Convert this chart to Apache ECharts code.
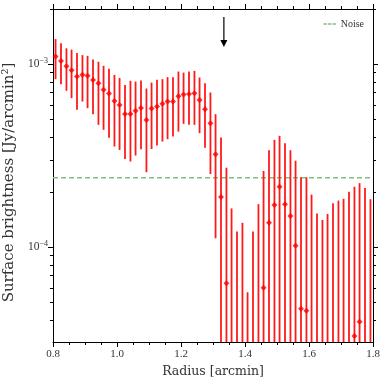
<!DOCTYPE html>
<html>
<head>
<meta charset="utf-8">
<script src="https://cdn.jsdelivr.net/npm/echarts@6/dist/echarts.min.js"></script>
<style>
  html, body { margin: 0; padding: 0; background: #fff; }
  #main { width: 383px; height: 383px; }
</style>
</head>
<body>
<div id="main"></div>
<script>
// bin centres [arcmin]
const radius = [
  0.808, 0.825, 0.842, 0.858, 0.875, 0.892, 0.908, 0.925, 0.942, 0.958,
  0.975, 0.992, 1.008, 1.025, 1.042, 1.058, 1.075, 1.092, 1.108, 1.125,
  1.142, 1.158, 1.175, 1.192, 1.208, 1.225, 1.242, 1.258, 1.275, 1.292,
  1.308, 1.325, 1.342, 1.358, 1.375, 1.392, 1.408, 1.425, 1.442, 1.458,
  1.475, 1.492, 1.508, 1.525, 1.542, 1.558, 1.575, 1.592, 1.608, 1.625,
  1.642, 1.658, 1.675, 1.692, 1.708, 1.725, 1.742, 1.758, 1.775, 1.792
];
// null = point below the plotted range
const brightness = [
  1.10e-3, 1.04e-3, 9.75e-4, 9.27e-4, 8.55e-4, 8.74e-4, 8.63e-4, 8.18e-4, 7.87e-4, 7.24e-4,
  6.91e-4, 6.30e-4, 5.99e-4, 5.35e-4, 5.35e-4, 5.56e-4, 5.77e-4, 4.96e-4, 5.72e-4, 5.87e-4,
  6.07e-4, 6.25e-4, 6.25e-4, 6.68e-4, 6.82e-4, 6.86e-4, 6.94e-4, 6.38e-4, 5.68e-4, 4.76e-4,
  3.22e-4, 1.88e-4, 6.36e-5, null, null, null, null, null, null, 6.01e-5,
  1.36e-4, 1.70e-4, 2.14e-4, 1.72e-4, 1.48e-4, 1.02e-4, 4.62e-5, 4.50e-5, null, null,
  null, null, null, null, null, null, 3.28e-5, 3.92e-5, null, null
];
const upper = [
  1.37e-3, 1.30e-3, 1.22e-3, 1.20e-3, 1.15e-3, 1.12e-3, 1.11e-3, 1.06e-3, 1.03e-3, 9.79e-4,
  9.43e-4, 8.74e-4, 8.41e-4, 7.70e-4, 8.11e-4, 8.03e-4, 8.13e-4, 7.36e-4, 7.93e-4, 8.21e-4,
  8.28e-4, 8.49e-4, 8.49e-4, 9.11e-4, 8.99e-4, 9.11e-4, 9.19e-4, 8.45e-4, 7.87e-4, 7.00e-4,
  5.33e-4, 3.97e-4, 2.72e-4, 1.63e-4, 1.22e-4, 1.36e-4, 5.68e-5, 1.22e-4, 1.72e-4, 2.61e-4,
  3.39e-4, 3.86e-4, 4.06e-4, 3.70e-4, 3.39e-4, 2.97e-4, 2.41e-4, 2.41e-4, 1.94e-4, 1.53e-4,
  1.41e-4, 1.52e-4, 1.74e-4, 1.80e-4, 1.84e-4, 2.01e-4, 2.14e-4, 2.24e-4, 2.11e-4, 1.83e-4
];
// null = lower end of the error bar is not positive (runs off the axis)
const lower = [
  8.28e-4, 7.77e-4, 7.15e-4, 6.52e-4, 5.63e-4, 6.25e-4, 5.75e-4, 5.33e-4, 4.66e-4, 4.38e-4,
  3.96e-4, 3.55e-4, 3.40e-4, 3.03e-4, 2.94e-4, 3.17e-4, 3.43e-4, 2.57e-4, 3.44e-4, 3.59e-4,
  3.78e-4, 3.89e-4, 4.02e-4, 4.28e-4, 4.72e-4, 4.66e-4, 4.66e-4, 4.20e-4, 3.50e-4, 2.51e-4,
  1.12e-4, null, null, null, null, null, null, null, null, null,
  null, null, null, null, null, null, null, null, null, null,
  null, null, null, null, null, null, null, null, null, null
];
const noiseLevel = 2.4e-4;
const arrowRadius = 1.334;
const arrowFrom = 1.81e-3;
const arrowTo = 1.24e-3;

const yMajorTicks = [1e-4, 1e-3];
const yMinorTicks = [4e-5, 5e-5, 6e-5, 7e-5, 8e-5, 9e-5,
  2e-4, 3e-4, 4e-4, 5e-4, 6e-4, 7e-4, 8e-4, 9e-4, 2e-3];

const chart = echarts.init(document.getElementById("main"));

const font = "Liberation Serif";
const titleFont = "DejaVu Serif";
const black = { color: "#000", width: 1 };
const yMin = 3.04e-5, yMax = 2e-3;

const xBase = {
  type: "value",
  min: 0.8,
  max: 1.8,
  interval: 0.2,
  axisLine: { show: true, onZero: false, lineStyle: black },
  axisTick: { show: true, length: 5, lineStyle: black },
  minorTick: { show: true, splitNumber: 4, length: 3, lineStyle: black },
  splitLine: { show: false },
  minorSplitLine: { show: false },
};

const expLabel = (v) => {
  const e = Math.round(Math.log10(v));
  return "{b|10}{s|" + String(e).replace("-", "\u2212") + "}";
};

const yBase = {
  type: "log",
  logBase: 10,
  min: yMin,
  max: yMax,
  splitLine: { show: false },
  axisLabel: { show: false },
};

const options = {
  animation: false,
  grid: { left: 53, right: 10, top: 9, bottom: 41, outerBoundsMode: "none" },
  legend: {
    data: [{ name: "Noise", icon: "path://M0,0H4.5V2H0Z M6,0H10.5V2H6Z M12,0H16.5V2H12Z" }],
    right: 19,
    top: 19,
    padding: 0,
    itemWidth: 16,
    itemHeight: 1.5,
    itemGap: 4,
    textStyle: { fontFamily: font, fontSize: 10, color: "#333", padding: [0, 0, 0, -2] },
  },
  xAxis: [
    {
      ...xBase,
      position: "bottom",
      axisLabel: {
        fontFamily: font,
        fontSize: 11,
        color: "#333",
        margin: 7,
        showMinLabel: true,
        showMaxLabel: true,
        formatter: (v) => v.toFixed(1),
      },
      name: "Radius [arcmin]",
      nameLocation: "middle",
      nameGap: 21,
      nameTextStyle: { fontFamily: titleFont, fontSize: 12.5, color: "#333" },
    },
    { ...xBase, position: "top", axisLabel: { show: false } },
  ],
  yAxis: [
    {
      ...yBase,
      position: "left",
      axisLine: { show: true, onZero: false, lineStyle: black },
      axisTick: { show: true, length: 5, lineStyle: black, customValues: yMajorTicks },
      axisLabel: {
        show: true,
        customValues: yMajorTicks,
        margin: 5,
        formatter: expLabel,
        rich: {
          b: { fontFamily: font, fontSize: 11.5, color: "#333", lineHeight: 14 },
          s: { fontFamily: font, fontSize: 8, color: "#333", padding: [0, 0, 7, 0] },
        },
      },
      name: "Surface brightness [Jy/arcmin\u00b2]",
      nameLocation: "middle",
      nameGap: 33,
      nameTextStyle: { fontFamily: titleFont, fontSize: 15, color: "#333", padding: [0, 14, 0, 0] },
    },
    {
      ...yBase,
      position: "left",
      axisLine: { show: false },
      axisTick: { show: true, length: 3, lineStyle: black, customValues: yMinorTicks },
    },
    {
      ...yBase,
      position: "right",
      axisLine: { show: true, onZero: false, lineStyle: black },
      axisTick: { show: true, length: 5, lineStyle: black, customValues: yMajorTicks },
    },
    {
      ...yBase,
      position: "right",
      axisLine: { show: false },
      axisTick: { show: true, length: 3, lineStyle: black, customValues: yMinorTicks },
    },
  ],
  series: [
    {
      name: "Noise",
      type: "line",
      xAxisIndex: 0,
      yAxisIndex: 0,
      data: [[0.8, noiseLevel], [1.8, noiseLevel]],
      symbol: "none",
      lineStyle: { color: "#80bf80", width: 1.5, type: [5, 3] },
      itemStyle: { color: "#80bf80" },
      z: 1,
    },
    {
      type: "custom",
      xAxisIndex: 0,
      yAxisIndex: 0,
      clip: true,
      data: radius.map((r, i) => [r, upper[i]]),
      renderItem: function (params, api) {
        const top = api.coord([api.value(0), api.value(1)]);
        const lo = lower[params.dataIndex];
        const cs = params.coordSys;
        const yBottom = lo == null ? cs.y + cs.height : api.coord([api.value(0), lo])[1];
        return {
          type: "line",
          shape: { x1: top[0], y1: top[1], x2: top[0], y2: yBottom },
          style: { stroke: "#ff1a1a", lineWidth: 1.8 },
        };
      },
      z: 2,
    },
    {
      type: "scatter",
      xAxisIndex: 0,
      yAxisIndex: 0,
      data: radius.map((r, i) => [r, brightness[i]]),
      symbol: "diamond",
      symbolSize: [6, 6],
      itemStyle: { color: "#ff0000" },
      z: 3,
    },
    {
      type: "custom",
      xAxisIndex: 0,
      yAxisIndex: 0,
      silent: true,
      data: [[arrowRadius, arrowFrom, arrowTo]],
      renderItem: function (params, api) {
        const a = api.coord([api.value(0), api.value(1)]);
        const b = api.coord([api.value(0), api.value(2)]);
        const h = 7, w = 3.5;
        return {
          type: "group",
          children: [
            {
              type: "line",
              shape: { x1: a[0], y1: a[1], x2: b[0], y2: b[1] - h + 1 },
              style: { stroke: "#000", lineWidth: 1.2 },
            },
            {
              type: "polygon",
              shape: { points: [[b[0] - w, b[1] - h], [b[0] + w, b[1] - h], [b[0], b[1]]] },
              style: { fill: "#000" },
            },
          ],
        };
      },
      z: 4,
    },
  ],
};

chart.setOption(options);
</script>
</body>
</html>
